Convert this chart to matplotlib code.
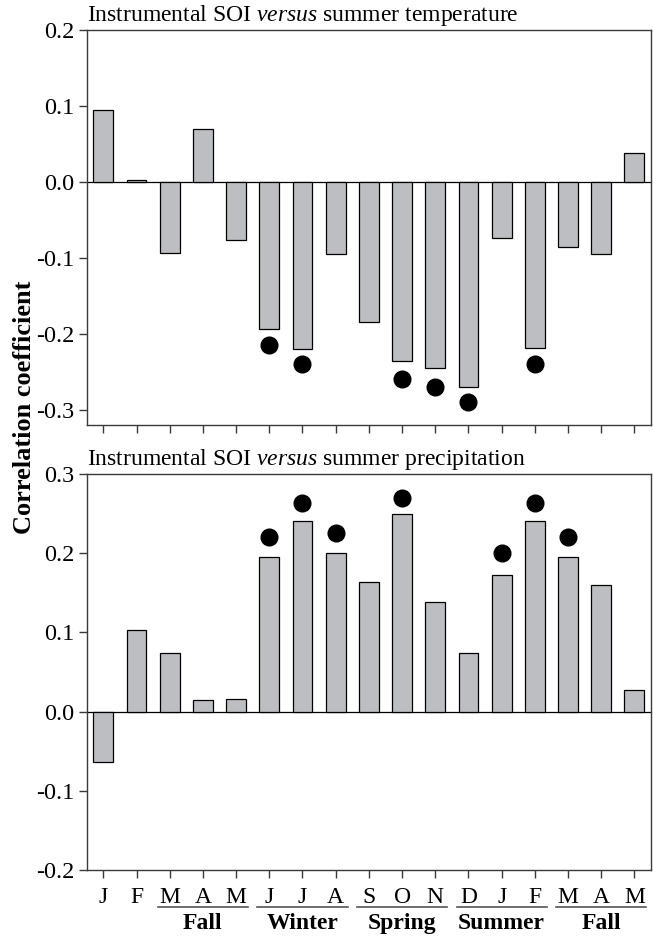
import matplotlib
matplotlib.use('Agg')
import matplotlib.pyplot as plt
import matplotlib.transforms as mtransforms
import numpy as np

plt.rcParams['font.family'] = ['Liberation Serif', 'DejaVu Serif']
plt.rcParams['mathtext.fontset'] = 'custom'
plt.rcParams['mathtext.rm'] = 'Liberation Serif'
plt.rcParams['mathtext.it'] = 'Liberation Serif:italic'

# data
months = ['J', 'F', 'M', 'A', 'M', 'J', 'J', 'A', 'S', 'O', 'N', 'D', 'J', 'F', 'M', 'A', 'M']
temp_r = [0.095, 0.003, -0.094, 0.070, -0.076, -0.193, -0.220, -0.095, -0.184,
          -0.236, -0.245, -0.270, -0.074, -0.219, -0.086, -0.095, 0.038]
temp_sig_idx = [5, 6, 9, 10, 11, 13]
temp_sig_y = [-0.215, -0.240, -0.260, -0.270, -0.290, -0.240]

precip_r = [-0.064, 0.103, 0.074, 0.015, 0.016, 0.195, 0.241, 0.200, 0.164,
            0.250, 0.138, 0.074, 0.172, 0.241, 0.195, 0.160, 0.027]
precip_sig_idx = [5, 6, 7, 9, 12, 13, 14]
precip_sig_y = [0.220, 0.264, 0.225, 0.270, 0.200, 0.264, 0.220]

seasons = ['Fall', 'Winter', 'Spring', 'Summer', 'Fall']
season_start = [2, 5, 8, 11, 14]
season_end = [4, 7, 10, 13, 16]

bar_color = '#bdbec2'
spine_color = '#3a3a3a'

fig = plt.figure(figsize=(6.53, 9.39), dpi=100)
ax1 = fig.add_axes([0.1328, 0.5474, 0.8642, 0.4207])
ax2 = fig.add_axes([0.1328, 0.0735, 0.8642, 0.4217])

x = np.arange(len(months))


def style_axis(ax):
    for s in ax.spines.values():
        s.set_color(spine_color)
        s.set_linewidth(1.0)
    ax.tick_params(direction='out', length=6, width=1.0, color=spine_color,
                   labelsize=17.5, pad=3)
    ax.tick_params(axis='x', labelsize=17, pad=6)
    ax.axhline(0, color='black', lw=0.9, zorder=1)
    ax.set_xlim(-0.5, len(months) - 0.5)
    ax.set_xticks(x)


# top panel
ax1.bar(x, temp_r, width=0.6, color=bar_color, edgecolor='black', linewidth=0.9, zorder=2)
ax1.plot(temp_sig_idx, temp_sig_y, 'o', color='black', ms=12, zorder=3)
style_axis(ax1)
ax1.set_ylim(-0.32, 0.2)
ax1.set_yticks([0.2, 0.1, 0.0, -0.1, -0.2, -0.3])
ax1.set_yticklabels(['0.2', '0.1', '0.0', '-0.1', '-0.2', '-0.3'])
ax1.set_xticklabels([])
ax1.text(0.0, 1.004, r'Instrumental SOI $\mathit{versus}$ summer temperature',
         transform=ax1.transAxes, ha='left', va='bottom', fontsize=17)

# bottom panel
ax2.bar(x, precip_r, width=0.6, color=bar_color, edgecolor='black', linewidth=0.9, zorder=2)
ax2.plot(precip_sig_idx, precip_sig_y, 'o', color='black', ms=12, zorder=3)
style_axis(ax2)
ax2.set_ylim(-0.2, 0.3)
ax2.set_yticks([0.3, 0.2, 0.1, 0.0, -0.1, -0.2])
ax2.set_yticklabels(['0.3', '0.2', '0.1', '0.0', '-0.1', '-0.2'])
ax2.set_xticklabels(months)
ax2.text(0.0, 1.004, r'Instrumental SOI $\mathit{versus}$ summer precipitation',
         transform=ax2.transAxes, ha='left', va='bottom', fontsize=17)

# season groups under the month labels
trans = mtransforms.blended_transform_factory(ax2.transData, ax2.transAxes)
for name, a, b in zip(seasons, season_start, season_end):
    ax2.plot([a - 0.36, b + 0.36], [-0.093, -0.093], color='#555555', lw=1.2,
             transform=trans, clip_on=False)
    ax2.text((a + b) / 2, -0.135, name, transform=trans, ha='center', va='center',
             fontsize=17, fontweight='bold')

fig.text(25 / 653, 1 - 407 / 939, 'Correlation coefficient', rotation=90,
         ha='center', va='center', fontsize=19, fontweight='bold')

plt.savefig('out.png', dpi=100)
